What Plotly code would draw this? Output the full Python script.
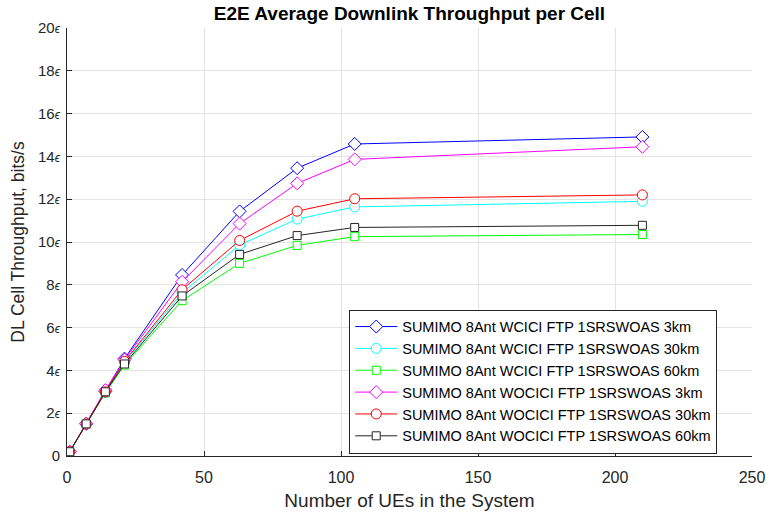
import plotly.graph_objects as go

num_ues = [1, 7, 14, 21, 42, 63, 84, 105, 210]

wcici_3km = [0.2, 1.5, 3.02, 4.55, 8.46, 11.43, 13.45, 14.58, 14.91]
wcici_30km = [0.2, 1.5, 3.0, 4.38, 7.62, 9.86, 11.07, 11.64, 11.9]
wcici_60km = [0.2, 1.5, 2.95, 4.25, 7.26, 9.0, 9.84, 10.25, 10.35]
wocici_3km = [0.2, 1.52, 3.08, 4.5, 8.14, 10.86, 12.74, 13.86, 14.45]
wocici_30km = [0.2, 1.5, 3.0, 4.42, 7.77, 10.07, 11.44, 12.02, 12.2]
wocici_60km = [0.2, 1.5, 3.0, 4.3, 7.48, 9.42, 10.3, 10.68, 10.78]

series_names = [
    "SUMIMO 8Ant WCICI FTP 1SRSWOAS 3km",
    "SUMIMO 8Ant WCICI FTP 1SRSWOAS 30km",
    "SUMIMO 8Ant WCICI FTP 1SRSWOAS 60km",
    "SUMIMO 8Ant WOCICI FTP 1SRSWOAS 3km",
    "SUMIMO 8Ant WOCICI FTP 1SRSWOAS 30km",
    "SUMIMO 8Ant WOCICI FTP 1SRSWOAS 60km",
]
series_values = [wcici_3km, wcici_30km, wcici_60km, wocici_3km, wocici_30km, wocici_60km]
colors = ["#0000ff", "#00ffff", "#00ff00", "#ff00ff", "#ff0000", "#262626"]
symbols = ["diamond", "circle", "square", "diamond", "circle", "square"]
sizes = [10, 10, 8, 10, 10, 8]

y_tick_vals = [0, 2, 4, 6, 8, 10, 12, 14, 16, 18, 20]
y_tick_text = ["0"] + [f"{v}<i><span style='font-size:12px'>ϵ</span></i>" for v in y_tick_vals[1:]]
x_tick_vals = [0, 50, 100, 150, 200, 250]

fig = go.Figure()
for name, vals, c, s, sz in zip(series_names, series_values, colors, symbols, sizes):
    fig.add_trace(go.Scatter(
        x=num_ues, y=vals, name=name, mode="lines+markers",
        line=dict(color=c, width=1),
        marker=dict(symbol=s, size=sz, color="white", line=dict(color=c, width=1)),
    ))

font_family = "Liberation Sans, Arial, sans-serif"
fig.update_layout(
    width=771, height=514,
    margin=dict(l=67, r=19, t=28, b=58, autoexpand=False),
    paper_bgcolor="white", plot_bgcolor="white",
    font=dict(family=font_family, size=15, color="#262626"),
    title=dict(text="<b>E2E Average Downlink Throughput per Cell</b>",
               x=(67 + 752) / 2 / 771, xanchor="center", y=0.974, yanchor="middle",
               automargin=False,
               font=dict(size=19, color="#000000")),
    showlegend=True,
    legend=dict(x=0.412, y=0.342, xanchor="left", yanchor="top",
                bgcolor="white", bordercolor="#262626", borderwidth=1,
                font=dict(size=14.5, color="#000000"),
                tracegroupgap=0, itemwidth=42),
)
fig.update_xaxes(
    range=[0, 250], tickvals=x_tick_vals, ticks="inside", ticklen=5, tickcolor="#262626",
    showgrid=True, gridcolor="#e3e3e3", gridwidth=1,
    showline=True, linecolor="#262626", linewidth=1, zeroline=False,
    automargin=False, ticklabelstandoff=7,
    title=dict(text="Number of UEs in the System", font=dict(size=19, color="#262626"), standoff=8),
    tickfont=dict(size=16, color="#262626"),
)
fig.update_yaxes(
    range=[0, 20], tickvals=y_tick_vals, ticktext=y_tick_text, ticks="inside", ticklen=5,
    tickcolor="#262626",
    showgrid=True, gridcolor="#e3e3e3", gridwidth=1,
    showline=True, linecolor="#262626", linewidth=1, zeroline=False,
    automargin=False, ticklabelstandoff=3,
    title=dict(text="DL Cell Throughput, bits/s", font=dict(size=17.5, color="#262626"), standoff=8),
    tickfont=dict(size=15, color="#262626"),
)

fig.write_html("out.html")
